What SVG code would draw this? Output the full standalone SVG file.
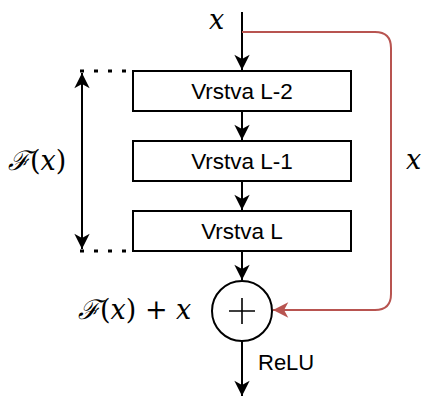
<svg xmlns="http://www.w3.org/2000/svg" width="426" height="396" viewBox="0 0 426 396">
<style>
.box{fill:#fff;stroke:#000;stroke-width:2}
.lbl{font-family:"Liberation Sans",Arial,sans-serif;font-size:22.5px;fill:#000;text-anchor:middle}
.relu{font-family:"Liberation Sans",Arial,sans-serif;font-size:22px;fill:#000}
.math{font-family:"DejaVu Serif","Liberation Serif",serif;font-style:italic;font-size:27px;fill:#000}
.mrm{font-family:"DejaVu Serif","Liberation Serif",serif;font-size:27px;fill:#000}
.edge{fill:none;stroke:#000;stroke-width:2}
.red{fill:none;stroke:#b85450;stroke-width:2}
.dot{fill:none;stroke:#000;stroke-width:3;stroke-dasharray:4 10}
</style>
<defs>
<marker id="ab" viewBox="0 0 20 20" refX="19" refY="10" markerWidth="17" markerHeight="17" markerUnits="userSpaceOnUse" orient="auto-start-reverse">
<path d="M1,1 L19,10 L1,19 L6,10 Z" fill="#000"/>
</marker>
<marker id="ar" viewBox="0 0 20 20" refX="19" refY="10" markerWidth="17" markerHeight="17" markerUnits="userSpaceOnUse" orient="auto">
<path d="M1,1 L19,10 L1,19 L6,10 Z" fill="#b85450"/>
</marker>
</defs>
<g id="connectors">
<path class="edge" d="M242,12 V70" marker-end="url(#ab)"/>
<path class="edge" d="M242,111 V140" marker-end="url(#ab)"/>
<path class="edge" d="M242,181 V210" marker-end="url(#ab)"/>
<path class="edge" d="M242,251 V280" marker-end="url(#ab)"/>
<path class="edge" d="M242,341 V396" marker-end="url(#ab)"/>
<path class="red" d="M242,32 H375 Q391,32 391,48 V294 Q391,310 375,310 H273" marker-end="url(#ar)"/>
<path class="edge" d="M82,73 V249" marker-start="url(#ab)" marker-end="url(#ab)"/>
<path class="dot" d="M80,71 H134"/>
<path class="dot" d="M80,251 H134"/>
</g>
<g id="l2"><rect class="box" x="133" y="71" width="218" height="40"/><text class="lbl" x="242" y="99">Vrstva L-2</text></g>
<g id="l1"><rect class="box" x="133" y="141" width="218" height="40"/><text class="lbl" x="242" y="169">Vrstva L-1</text></g>
<g id="l0"><rect class="box" x="133" y="211" width="218" height="40"/><text class="lbl" x="242" y="239">Vrstva L</text></g>
<g id="sum"><circle cx="242" cy="311" r="30" fill="#fff" stroke="#000" stroke-width="2"/><path d="M229,311 H255 M242,298 V324" stroke="#000" stroke-width="1.6"/></g>
<g id="labels">
<text class="math" x="209" y="29">x</text>
<text class="math" x="406" y="169">x</text>
<text x="8" y="170"><tspan class="math">ℱ</tspan><tspan class="mrm">(</tspan><tspan class="math">x</tspan><tspan class="mrm">)</tspan></text>
<text x="78" y="319"><tspan class="math">ℱ</tspan><tspan class="mrm">(</tspan><tspan class="math">x</tspan><tspan class="mrm">) + </tspan><tspan class="math">x</tspan></text>
<text class="relu" x="258" y="370">ReLU</text>
</g>
</svg>
